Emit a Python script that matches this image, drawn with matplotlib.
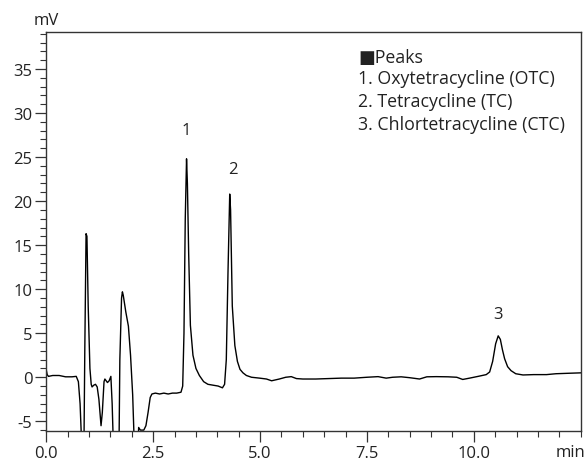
import matplotlib
matplotlib.use("Agg")
import matplotlib.pyplot as plt
from matplotlib.ticker import MultipleLocator, FixedLocator

plt.rcParams['font.family'] = ['Open Sans', 'DejaVu Sans']
plt.rcParams['axes.unicode_minus'] = False

# Chromatogram trace (time in min, signal in mV)
time_min = [0.00, 0.02, 0.05, 0.15, 0.30, 0.45, 0.60, 0.70, 0.75, 0.79, 0.83, 0.88,
            0.90, 0.93, 0.95, 0.98, 1.02, 1.05, 1.07, 1.11, 1.15, 1.19, 1.23, 1.28,
            1.31, 1.35, 1.37, 1.43, 1.47, 1.51, 1.54, 1.57, 1.70, 1.72, 1.76, 1.78,
            1.80, 1.86, 1.92, 1.97, 2.02, 2.06, 2.14, 2.16, 2.20, 2.28, 2.33, 2.38,
            2.43, 2.47, 2.55, 2.65, 2.75, 2.85, 2.95, 3.05, 3.15, 3.19, 3.22, 3.25,
            3.28, 3.30, 3.33, 3.37, 3.43, 3.50, 3.58, 3.68, 3.78, 3.90, 4.02, 4.12,
            4.17, 4.21, 4.25, 4.29, 4.31, 4.35, 4.41, 4.47, 4.53, 4.60, 4.68, 4.80,
            4.99, 5.15, 5.27, 5.45, 5.60, 5.73, 5.85, 6.00, 6.30, 6.60, 6.90, 7.20,
            7.50, 7.76, 7.95, 8.10, 8.30, 8.50, 8.73, 8.90, 9.12, 9.40, 9.60, 9.74,
            9.90, 10.10, 10.29, 10.37, 10.44, 10.51, 10.57, 10.62, 10.67, 10.72, 10.79,
            10.87, 10.98, 11.15, 11.40, 11.70, 11.92, 12.20, 12.50]
signal_mv = [0.8, 0.3, 0.1, 0.2, 0.2, 0.05, 0.05, 0.1, -0.5, -3.0, -8.0, -8.0,
             3.0, 16.3, 16.0, 8.0, 1.0, -0.8, -1.1, -0.9, -0.8, -1.1, -2.5, -5.5,
             -4.0, -0.5, -0.2, -0.6, -0.4, 0.1, -3.0, -8.0, -8.0, 2.0, 9.0, 9.7,
             9.3, 7.4, 5.8, 2.5, -2.0, -8.0, -8.0, -5.7, -6.0, -6.0, -5.5, -4.0,
             -2.3, -1.9, -1.8, -1.9, -1.8, -1.9, -1.8, -1.8, -1.7, -1.0, 5.0, 18.0,
             24.8, 22.0, 14.0, 5.9, 2.5, 1.0, 0.2, -0.5, -0.8, -0.9, -1.0, -1.2,
             -0.8, 2.0, 12.0, 20.8, 19.0, 8.1, 3.6, 1.8, 0.9, 0.5, 0.2, 0.0,
             -0.1, -0.2, -0.4, -0.2, 0.0, 0.07, -0.15, -0.2, -0.2, -0.15, -0.1, -0.1,
             0.0, 0.07, -0.1, 0.0, 0.05, -0.05, -0.2, 0.05, 0.07, 0.05, 0.0, -0.25,
             -0.1, 0.1, 0.3, 0.6, 1.8, 3.8, 4.7, 4.3, 3.1, 2.1, 1.2,
             0.75, 0.4, 0.26, 0.3, 0.3, 0.4, 0.45, 0.5]

peak_labels = ['1', '2', '3']
peak_label_x = [3.27, 4.37, 10.56]
peak_label_y = [28.1, 23.7, 7.2]

legend_lines = ['■Peaks', '1. Oxytetracycline (OTC)', '2. Tetracycline (TC)',
                '3. Chlortetracycline (CTC)']

x_ticks = [0.0, 2.5, 5.0, 7.5, 10.0]
x_tick_labels = ['0.0', '2.5', '5.0', '7.5', '10.0']
y_ticks = [-5, 0, 5, 10, 15, 20, 25, 30, 35]

FS = 12
fig = plt.figure(figsize=(5.87, 4.64), dpi=100)
ax = fig.add_axes([0.0789, 0.069, 0.9104, 0.8599])

ax.plot(time_min, signal_mv, color='black', lw=1.0, clip_on=True)

ax.set_xlim(0, 12.5)
ax.set_ylim(-6.1, 39.2)
ax.xaxis.set_major_locator(FixedLocator(x_ticks))
ax.set_xticklabels(x_tick_labels)
ax.xaxis.set_minor_locator(MultipleLocator(0.5))
ax.yaxis.set_major_locator(FixedLocator(y_ticks))
ax.yaxis.set_minor_locator(MultipleLocator(1))

ax.tick_params(which='major', length=8, width=0.9, labelsize=FS, color='#333333',
               labelcolor='#222222', pad=2)
ax.tick_params(which='minor', length=4.5, width=0.8, color='#333333')
for s in ax.spines.values():
    s.set_linewidth(1.0)
    s.set_color('#333333')

for lab, lx, ly in zip(peak_labels, peak_label_x, peak_label_y):
    ax.text(lx, ly, lab, ha='center', va='center', fontsize=FS, color='#222222')

fig.text(46 / 587, 1 - 21 / 464, 'mV', ha='center', va='center', fontsize=FS, color='#222222')
fig.text(585.5 / 587, 1 - 453 / 464, 'min', ha='right', va='center', fontsize=FS, color='#222222')

leg_y = [58, 79, 102, 125]
for txt, py in zip(legend_lines, leg_y):
    fig.text(358 / 587, 1 - py / 464, txt, ha='left', va='center', fontsize=12.75,
             color='#222222')

fig.savefig('out.png', dpi=100)
